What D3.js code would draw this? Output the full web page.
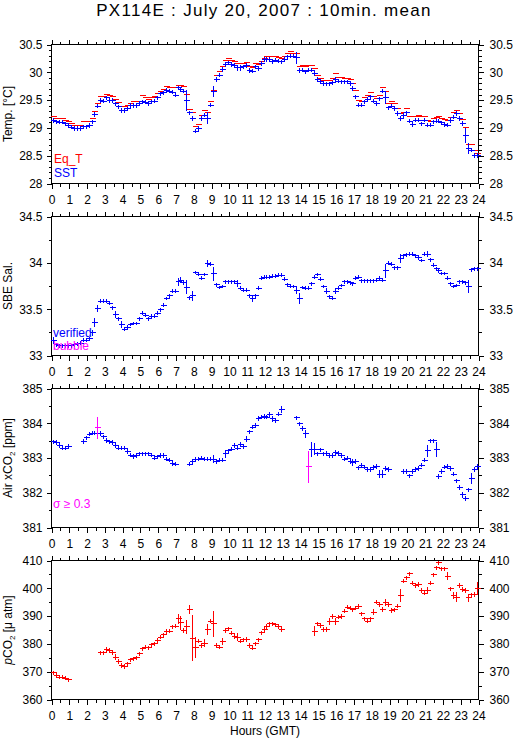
<!DOCTYPE html>
<html>
<head>
<meta charset="utf-8">
<script src="https://cdn.jsdelivr.net/npm/d3@7"></script>
<style>
  html, body { margin: 0; padding: 0; background: #fff; }
  svg { display: block; font-family: "Liberation Sans", Arial, Helvetica, sans-serif; }
</style>
</head>
<body>
<svg id="chart" width="515" height="739"></svg>
<script>
// ---------------- DATA (10-minute means, 6 per hour, 0:05 .. 23:55 GMT) ----------------
const hourTicks = d3.range(0, 25);
const sampleTimes = d3.range(144).map(i => (i + 0.5) / 6);

const sst = [
  29.14, 29.12, 29.11, 29.11, 29.08, 29.05,
  29.02, 29.00, 29.00, 29.00, 29.03, 29.03,
  29.05, 29.12, 29.25, 29.40, 29.50, 29.49,
  29.55, 29.50, 29.50, 29.44, 29.39, 29.32,
  29.32, 29.35, 29.41, 29.41, 29.41, 29.45,
  29.48, 29.47, 29.45, 29.48, 29.49, 29.55,
  29.62, 29.64, 29.68, 29.67, 29.65, 29.60,
  29.73, 29.70, 29.67, 29.50, 29.28, 29.18,
  28.95, 29.00, 29.18, 29.24, 29.18, 29.42,
  29.66, 29.88, 29.96, 30.06, 30.15, 30.18,
  30.15, 30.13, 30.09, 30.09, 30.11, 30.13,
  30.04, 30.03, 30.11, 30.08, 30.17, 30.24,
  30.24, 30.24, 30.20, 30.23, 30.21, 30.20,
  30.24, 30.29, 30.30, 30.30, 30.27, 30.04,
  30.05, 30.02, 30.05, 30.05, 29.99, 29.88,
  29.84, 29.80, 29.80, 29.80, 29.82, 29.88,
  29.85, 29.84, 29.84, 29.84, 29.80, 29.72,
  29.57, 29.42, 29.42, 29.48, 29.52, 29.57,
  29.49, 29.45, 29.53, 29.67, 29.55, 29.37,
  29.40, 29.35, 29.27, 29.18, 29.23, 29.28,
  29.13, 29.07, 29.15, 29.15, 29.08, 29.15,
  29.06, 29.06, 29.12, 29.13, 29.13, 29.10,
  29.07, 29.06, 29.14, 29.20, 29.27, 29.18,
  29.09, 28.87, 28.63, 28.61, 28.51, 28.51
];
const sstSdDefault = 0.03;
const sstSdLarge = [[45, 0.18], [52, 0.10], [54, 0.09], [62, 0.05], [63, 0.05], [66, 0.04],
                    [82, 0.10], [112, 0.10], [139, 0.12], [140, 0.09]];

const eqT = [
  29.22, 29.18, 29.18, 29.18, 29.15, 29.12,
  29.09, 29.06, 29.06, 29.06, 29.12, 29.12,
  29.12, 29.18, 29.30, 29.45, 29.57, 29.57,
  29.61, 29.60, 29.57, 29.52, 29.46, 29.39,
  29.39, 29.42, 29.44, 29.48, 29.48, 29.45,
  29.60, 29.55, 29.52, 29.55, 29.57, 29.63,
  29.67, 29.70, 29.75, 29.73, 29.73, 29.73,
  29.78, 29.78, 29.75, 29.61, 29.34, 29.28,
  29.03, 29.07, 29.24, 29.32, 29.28, 29.48,
  29.68, 29.96, 30.02, 30.12, 30.22, 30.25,
  30.22, 30.20, 30.17, 30.17, 30.17, 30.18,
  30.12, 30.10, 30.17, 30.15, 30.21, 30.26,
  30.30, 30.30, 30.29, 30.29, 30.27, 30.25,
  30.30, 30.34, 30.38, 30.34, 30.34, 30.11,
  30.14, 30.11, 30.13, 30.14, 30.07, 29.96,
  29.90, 29.86, 29.87, 29.87, 29.89, 29.98,
  29.91, 29.91, 29.90, 29.90, 29.88, 29.81,
  29.69, 29.51, 29.49, 29.55, 29.60, 29.65,
  29.57, 29.53, 29.60, 29.73, 29.66, 29.45,
  29.48, 29.44, 29.35, 29.27, 29.28, 29.35,
  29.21, 29.21, 29.22, 29.24, 29.21, 29.21,
  29.15, 29.12, 29.18, 29.19, 29.21, 29.18,
  29.16, 29.14, 29.19, 29.28, 29.32, 29.27,
  29.16, 29.02, 28.71, 28.71, 28.60, 28.55
];

const salinity = [
  33.17, 33.12, 33.11, 33.11, 33.11, 33.11,
  33.11, 33.12, 33.13, 33.14, 33.17, 33.17,
  33.19, 33.25, 33.36, 33.51, 33.59, 33.59,
  33.59, 33.57, 33.52, 33.45, 33.40, 33.34,
  33.29, 33.31, 33.34, 33.35, 33.35, 33.40,
  33.46, 33.44, 33.40, 33.43, 33.43, 33.46,
  33.50, 33.55, 33.62, 33.65, 33.70, 33.70,
  33.80, 33.82, 33.79, 33.74, 33.63, 33.65,
  33.90, 33.88, 33.84, 33.88, 34.00, 33.99,
  33.89, 33.77, 33.74, 33.75, 33.80, 33.80,
  33.80, 33.80, 33.78, 33.73, 33.71, 33.71,
  33.65, 33.62, 33.65, 33.73, 33.84, 33.85,
  33.85, 33.85, 33.86, 33.86, 33.87, 33.87,
  33.83, 33.77, 33.75, 33.75, 33.71, 33.62,
  33.74, 33.73, 33.73, 33.78, 33.85, 33.88,
  33.83, 33.75, 33.70, 33.64, 33.62, 33.70,
  33.73, 33.76, 33.80, 33.80, 33.79, 33.78,
  33.84, 33.85, 33.81, 33.81, 33.81, 33.81,
  33.81, 33.82, 33.84, 33.82, 33.92, 34.00,
  33.99, 33.95, 33.95, 34.05, 34.08, 34.09,
  34.10, 34.10, 34.08, 34.06, 34.03, 34.10,
  34.10, 34.04, 33.98, 33.94, 33.92, 33.89,
  33.89, 33.84, 33.78, 33.75, 33.76, 33.80,
  33.80, 33.79, 33.75, 33.93, 33.94, 33.94
];
const salSdDefault = 0.015;
const salSdLarge = [[0, 0.03], [13, 0.03], [14, 0.04], [15, 0.03], [21, 0.03], [23, 0.03],
                    [42, 0.04], [43, 0.03], [45, 0.07], [47, 0.05], [52, 0.03], [54, 0.07],
                    [62, 0.03], [67, 0.03], [82, 0.04], [83, 0.05], [92, 0.03], [95, 0.03],
                    [112, 0.07], [117, 0.04], [126, 0.03], [140, 0.07]];

const airCO2 = [
  383.48, 383.46, 383.37, 383.30, 383.30, 383.35,
  null, null, null, null, 383.49, 383.59,
  383.70, 383.73, 383.73, 383.88, 383.72, 383.62,
  383.52, 383.48, 383.46, 383.37, 383.30, 383.30,
  383.30, 383.20, 383.10, 383.06, 383.08, 383.13,
  383.13, 383.13, 383.13, 383.10, 383.01, 383.05,
  383.08, 383.08, 382.98, 382.95, 382.86, 382.84,
  null, null, null, null, 382.84, 382.92,
  382.98, 382.98, 383.01, 382.98, 382.98, 382.98,
  382.98, 382.92, 382.95, 382.95, 383.13, 383.22,
  383.27, 383.37, 383.30, 383.40, 383.34, 383.56,
  383.77, 383.90, 383.95, 384.15, 384.19, 384.21,
  384.19, 384.26, 384.14, 384.10, 384.28, 384.41,
  null, null, null, null, 384.17, 384.00,
  383.86, 383.71, 382.76, 383.25, 383.27, 383.13,
  383.25, 383.13, 383.14, 383.08, 383.08, 383.17,
  383.14, 383.08, 382.98, 383.01, 382.92, 382.88,
  382.92, 382.73, 382.80, 382.75, 382.68, 382.68,
  382.75, 382.77, 382.55, 382.55, 382.71, 382.68,
  null, null, null, null, 382.62, 382.62,
  382.50, 382.62, 382.68, 382.71, 382.81, 382.95,
  383.22, 383.51, 383.51, 383.27, 382.48, 382.63,
  382.75, 382.77, 382.70, 382.55, 382.36, 382.16,
  381.95, 381.85, 382.10, 382.43, 382.68, 382.77
];
const airSdDefault = 0.05;
const airSdLarge = [[15, 0.31], [54, 0.10], [58, 0.10], [65, 0.08], [74, 0.07], [77, 0.10],
                    [85, 0.10], [86, 0.44], [87, 0.20], [88, 0.15], [101, 0.08], [110, 0.10],
                    [111, 0.10], [126, 0.15], [129, 0.20], [138, 0.08], [141, 0.15]];
const sigmaLimit = 0.3;

const pCO2 = [
  369.8, 368.8, 368.2, 368.2, 367.8, 367.2,
  null, null, null, null, null, null,
  null, null, null, null, 377.0, 377.0,
  378.2, 377.8, 377.0, 375.4, 373.9, 372.4,
  372.0, 373.0, 374.4, 374.8, 375.2, 376.6,
  378.4, 379.0, 378.8, 379.9, 380.2, 381.4,
  382.6, 383.5, 384.7, 384.8, 386.3, 386.5,
  389.2, 387.8, 385.0, 386.3, 392.5, 382.3,
  379.0, 381.2, 379.6, 380.5, 385.3, 388.3,
  387.4, 379.6, 379.0, 381.1, 385.0, 385.6,
  384.1, 382.9, 382.6, 381.2, 381.7, 381.8,
  379.6, 378.7, 380.2, 381.7, 384.2, 385.3,
  386.4, 387.4, 387.4, 387.0, 386.4, 385.3,
  null, null, null, null, null, null,
  null, null, null, null, 384.8, 387.4,
  386.8, 385.3, 385.4, 388.3, 390.0, 388.3,
  389.8, 390.0, 392.0, 393.4, 393.0, 392.4,
  393.0, 393.6, 391.0, 389.2, 388.3, 389.2,
  391.6, 395.2, 394.3, 392.5, 395.0, 394.2,
  392.2, 392.4, 393.7, 397.6, 402.7, 403.9,
  405.4, 402.0, 401.2, 401.6, 399.4, 398.4,
  399.4, 402.0, 405.0, 407.5, 409.3, 407.2,
  407.2, 404.5, 400.0, 397.6, 397.0, 401.2,
  399.8, 399.4, 396.7, 397.8, 397.9, 400.2
];
const pco2SdDefault = 0.6;
const pco2SdLarge = [[21, 1.0], [42, 1.7], [43, 2.4], [45, 2.4], [46, 1.5], [47, 8.0], [48, 3.6],
                     [51, 1.2], [52, 1.7], [54, 4.5], [57, 1.0], [62, 1.2], [88, 1.5], [93, 1.0],
                     [95, 1.0], [108, 1.0], [112, 1.0], [117, 2.0], [126, 1.0], [133, 1.3],
                     [135, 1.2], [136, 1.5], [140, 1.3], [143, 2.0]];

const tempTicks = [28, 28.5, 29, 29.5, 30, 30.5];
const salTicks = [33, 33.5, 34, 34.5];
const airTicks = [381, 382, 383, 384, 385];
const pco2Ticks = [360, 370, 380, 390, 400, 410];

// ---------------- LAYOUT ----------------
const RED = "#ff0000", BLUE = "#0000ff", MAGENTA = "#ff00ff";
const X0 = 51.5, X1 = 478.5, PH = 139;
const svg = d3.select("#chart");

const x = d3.scaleLinear().domain([0, 24]).range([X0, X1]);

function sdArray(def, large) {
  const a = new Array(144).fill(def);
  large.forEach(([i, s]) => { a[i] = s; });
  return a;
}

svg.append("text")
  .attr("x", 264).attr("y", 16)
  .attr("text-anchor", "middle")
  .attr("font-size", 17).attr("letter-spacing", 1.3)
  .text("PX114E : July 20, 2007 : 10min. mean");

const panels = [
  { top: 44.5,  domain: [28, 30.5], ticks: tempTicks, minor: 0.1 },
  { top: 216.5, domain: [33, 34.5], ticks: salTicks,  minor: 0.25 },
  { top: 388.5, domain: [381, 385], ticks: airTicks,  minor: 0.5 },
  { top: 560.5, domain: [360, 410], ticks: pco2Ticks, minor: 5 }
];

function minorValues(domain, step) {
  const out = [];
  for (let v = domain[0]; v <= domain[1] + 1e-9; v += step) out.push(Math.round(v * 1000) / 1000);
  return out;
}

panels.forEach((p, k) => {
  const g = svg.append("g");
  const y = d3.scaleLinear().domain(p.domain).range([p.top + PH, p.top]);
  p.y = y;
  p.g = g;
  const bottom = p.top + PH;

  // minor ticks
  const minorX = d3.range(0, 24.01, 0.5);
  const minorY = minorValues(p.domain, p.minor);
  const ax = (gen, tr) => g.append("g").attr("transform", tr).call(gen)
      .call(s => s.select(".domain").remove());

  ax(d3.axisBottom(x).tickValues(minorX).tickSize(3).tickFormat(""), `translate(0,${bottom})`);
  ax(d3.axisTop(x).tickValues(minorX).tickSize(3).tickFormat(""), `translate(0,${p.top})`);
  ax(d3.axisLeft(y).tickValues(minorY).tickSize(3).tickFormat(""), `translate(${X0},0)`);
  ax(d3.axisRight(y).tickValues(minorY).tickSize(3).tickFormat(""), `translate(${X1},0)`);

  // major ticks
  ax(d3.axisBottom(x).tickValues(hourTicks).tickSize(5).tickPadding(7).tickFormat(d => d), `translate(0,${bottom})`);
  ax(d3.axisTop(x).tickValues(hourTicks).tickSize(5).tickFormat(""), `translate(0,${p.top})`);
  ax(d3.axisLeft(y).tickValues(p.ticks).tickSize(5).tickPadding(4).tickFormat(d => d), `translate(${X0},0)`);
  ax(d3.axisRight(y).tickValues(p.ticks).tickSize(5).tickPadding(6).tickFormat(d => d), `translate(${X1},0)`);

  g.selectAll(".tick text").attr("font-size", 12).attr("font-family", "Liberation Sans, Arial, sans-serif").attr("fill", "#000");
  g.selectAll(".tick line").attr("stroke", "#000").attr("shape-rendering", "crispEdges");

  g.append("rect")
    .attr("x", X0).attr("y", p.top).attr("width", X1 - X0).attr("height", PH)
    .attr("fill", "none").attr("stroke", "#000").attr("shape-rendering", "crispEdges");
});

// marker drawing
function drawSeries(p, values, sds, colorFn) {
  const pts = values.map((v, i) => ({ t: sampleTimes[i], v, sd: sds ? sds[i] : 0, i }))
    .filter(d => d.v !== null);
  p.g.append("g").selectAll("path").data(pts).join("path")
    .attr("d", d => {
      const cx = Math.round(x(d.t)) + 0.5;
      const cy = Math.round(p.y(d.v)) + 0.5;
      let s = `M${cx - 3},${cy}H${cx + 3}`;
      if (d.sd > 0) {
        const y1 = Math.round(p.y(d.v + d.sd));
        const y2 = Math.round(p.y(d.v - d.sd)) + 1;
        s += `M${cx},${y1}V${y2}`;
      }
      return s;
    })
    .attr("fill", "none")
    .attr("stroke", colorFn)
    .attr("stroke-width", 1)
    .attr("shape-rendering", "crispEdges");
}

const [P1, P2, P3, P4] = panels;
drawSeries(P1, eqT, null, () => RED);
drawSeries(P1, sst, sdArray(sstSdDefault, sstSdLarge), () => BLUE);
drawSeries(P2, salinity, sdArray(salSdDefault, salSdLarge), () => BLUE);
const airSd = sdArray(airSdDefault, airSdLarge);
drawSeries(P3, airCO2, airSd, d => d.sd >= sigmaLimit ? MAGENTA : BLUE);
drawSeries(P4, pCO2, sdArray(pco2SdDefault, pco2SdLarge), () => RED);

// y-axis titles
function yTitle(p, build) {
  const cy = p.top + PH / 2;
  const t = svg.append("text")
    .attr("transform", `translate(12,${cy}) rotate(-90)`)
    .attr("text-anchor", "middle")
    .attr("font-size", 12);
  build(t);
}
yTitle(P1, t => t.text("Temp. [°C]"));
yTitle(P2, t => t.text("SBE Sal."));
yTitle(P3, t => {
  t.append("tspan").text("Air xCO");
  t.append("tspan").attr("font-size", 8).attr("dy", 3).text("2");
  t.append("tspan").attr("dy", -3).text(" [ppm]");
});
yTitle(P4, t => {
  t.append("tspan").attr("font-style", "italic").text("p");
  t.append("tspan").text("CO");
  t.append("tspan").attr("font-size", 8).attr("dy", 3).text("2");
  t.append("tspan").attr("dy", -3).text(" [\u03bc atm]");
});

// legends
const legend = (xx, yy, color, txt) => svg.append("text")
  .attr("x", xx).attr("y", yy).attr("font-size", 12).attr("fill", color).text(txt);
legend(54, 163, RED, "Eq_T");
legend(54, 177, BLUE, "SST");
legend(53, 337, BLUE, "verified");
legend(53, 350, MAGENTA, "bubble");
legend(53, 508, MAGENTA, "\u03c3 \u2265 0.3");

// x-axis title
svg.append("text")
  .attr("x", (X0 + X1) / 2).attr("y", 735)
  .attr("text-anchor", "middle").attr("font-size", 12)
  .text("Hours (GMT)");
</script>
</body>
</html>
